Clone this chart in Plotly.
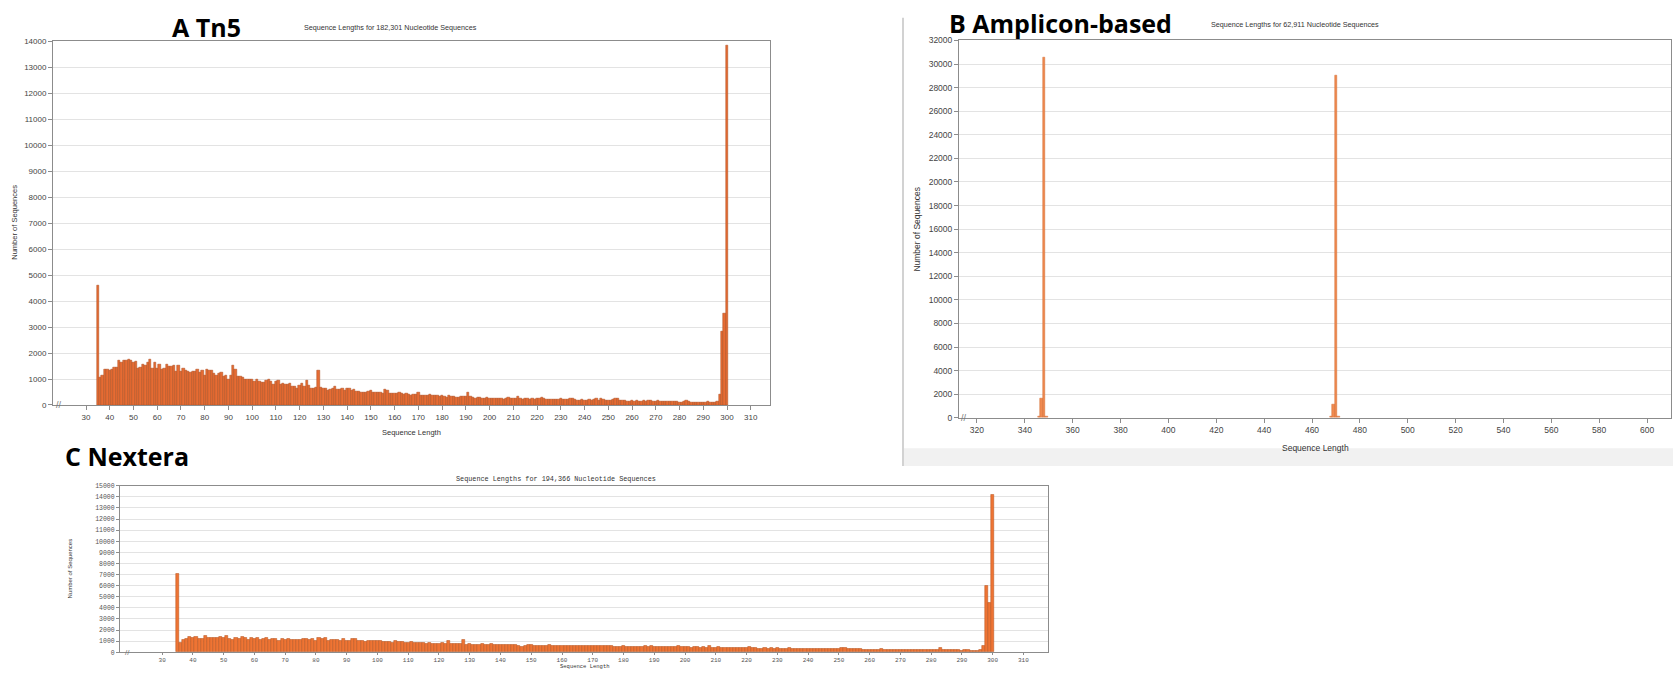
import plotly.graph_objects as go

W, H = 1673, 674

# ---------------- data ----------------
lengths_A = list(range(35, 301))
counts_A = [
    4600, 1050, 1150, 1370, 1370, 1320, 1350, 1430, 1450, 1700,
    1650, 1700, 1720, 1750, 1720, 1620, 1680, 1400, 1430, 1550,
    1520, 1650, 1750, 1420, 1650, 1420, 1580, 1380, 1420, 1580,
    1500, 1500, 1520, 1300, 1520, 1300, 1400, 1320, 1300, 1270,
    1280, 1300, 1380, 1250, 1330, 1150, 1350, 1320, 1320, 1200,
    1150, 1200, 1250, 1100, 1150, 1000, 1150, 1530, 1350, 1100,
    1080, 1050, 1000, 980, 1000, 1000, 900, 980, 920, 870,
    850, 950, 980, 900, 800, 900, 930, 800, 820, 780,
    800, 820, 730, 720, 650, 750, 820, 700, 930, 750,
    620, 650, 680, 1320, 680, 650, 620, 560, 600, 650,
    700, 600, 580, 620, 560, 620, 620, 560, 580, 530,
    530, 500, 500, 500, 520, 550, 480, 500, 470, 500,
    450, 600, 550, 430, 450, 430, 450, 500, 430, 400,
    450, 400, 380, 400, 400, 470, 380, 360, 370, 380,
    420, 380, 350, 360, 330, 350, 320, 280, 350, 330,
    310, 300, 300, 320, 330, 330, 480, 330, 300, 250,
    300, 280, 270, 260, 280, 260, 270, 260, 250, 240,
    250, 230, 260, 290, 240, 240, 250, 310, 240, 230,
    250, 240, 230, 240, 220, 240, 250, 290, 240, 210,
    210, 220, 210, 230, 220, 240, 210, 220, 210, 250,
    270, 200, 180, 190, 200, 190, 190, 200, 190, 220,
    260, 180, 240, 200, 170, 180, 170, 200, 250, 240,
    180, 160, 170, 150, 140, 160, 140, 160, 150, 150,
    160, 150, 160, 190, 150, 140, 160, 130, 120, 140,
    130, 140, 120, 140, 120, 110, 110, 130, 170, 140,
    110, 110, 100, 110, 100, 100, 90, 150, 100, 90,
    100, 130, 420, 2850, 3520, 13850,
]

lengths_B = [346, 347, 348, 349, 468, 469, 470, 471]
counts_B = [120, 1600, 30550, 110, 90, 1100, 29050, 110]

lengths_C = list(range(35, 301))
counts_C = [
    7100, 900, 1100, 1250, 1400, 1300, 1400, 1200, 1250, 1480,
    1300, 1300, 1300, 1350, 1400, 1300, 1500, 1200, 1100, 1300,
    1200, 1400, 1350, 1150, 1300, 1200, 1300, 1150, 1250, 1300,
    1150, 1250, 1250, 1000, 1250, 1100, 1250, 1100, 1100, 1100,
    1100, 1200, 1200, 1150, 1250, 1050, 1300, 1250, 1330, 1050,
    1100, 1150, 1150, 1050, 1200, 1000, 1050, 1250, 1200, 1000,
    1050, 950, 1000, 1000, 1000, 1000, 1050, 950, 950, 950,
    900, 1000, 950, 950, 900, 900, 950, 900, 850, 850,
    900, 800, 850, 800, 750, 800, 850, 800, 1000, 750,
    800, 750, 750, 1100, 700, 750, 700, 700, 650, 750,
    700, 700, 750, 700, 700, 700, 650, 700, 700, 700,
    700, 550, 500, 550, 650, 650, 600, 620, 600, 580,
    620, 640, 600, 620, 580, 620, 620, 600, 560, 620,
    600, 580, 560, 580, 560, 600, 580, 620, 600, 580,
    600, 560, 520, 540, 500, 560, 500, 520, 520, 480,
    500, 520, 560, 500, 620, 500, 520, 480, 500, 460,
    480, 500, 480, 560, 480, 460, 480, 440, 500, 460,
    440, 460, 450, 600, 440, 420, 480, 450, 420, 400,
    420, 400, 440, 400, 420, 380, 460, 420, 380, 360,
    360, 380, 360, 370, 360, 380, 360, 350, 360, 370,
    350, 360, 340, 350, 330, 340, 330, 320, 310, 340,
    320, 310, 300, 320, 300, 350, 380, 370, 360, 320,
    290, 280, 290, 270, 260, 250, 260, 270, 250, 280,
    260, 250, 240, 250, 230, 240, 220, 260, 240, 230,
    220, 240, 210, 200, 210, 200, 190, 230, 380, 200,
    190, 200, 180, 190, 200, 170, 180, 190, 160, 150,
    170, 200, 600, 5950, 4450, 14150,
]

ticks_A = list(range(30, 311, 10))
ticks_B = list(range(320, 601, 20))
ticks_C = list(range(30, 311, 10))

title_A = "A Tn5"
title_B = "B Amplicon-based"
title_C = "C Nextera"
sub_A = "Sequence Lengths for 182,301 Nucleotide Sequences"
sub_B = "Sequence Lengths for 62,911 Nucleotide Sequences"
sub_C = "Sequence Lengths for 194,366 Nucleotide Sequences"
xlabel = "Sequence Length"
ylabel = "Number of Sequences"


def px(x):
    return x / W


def py(y):
    return 1 - y / H


fig = go.Figure()
fig.add_trace(go.Bar(x=lengths_A, y=counts_A, width=1, xaxis="x", yaxis="y",
                     marker=dict(color="#E66C34", line=dict(color="#A9491B", width=0.5))))
fig.add_trace(go.Bar(x=lengths_B, y=counts_B, width=1, xaxis="x2", yaxis="y2",
                     marker=dict(color="#F08A50", line=dict(color="#D0682E", width=0.5))))
fig.add_trace(go.Bar(x=lengths_C, y=counts_C, width=1, xaxis="x3", yaxis="y3",
                     marker=dict(color="#EE7434", line=dict(color="#B5501C", width=0.5))))

sans = "Liberation Sans"
mono = "Liberation Mono"
frame = "#8c8c8c"
grid = "#e3e3e3"

common_x = dict(showline=True, linecolor=frame, linewidth=1, mirror=True, ticks="outside",
                ticklen=4, tickcolor=frame, showgrid=False, zeroline=False, fixedrange=True,
                tickformat="d")
common_y = dict(showline=True, linecolor=frame, linewidth=1, mirror=True, ticks="outside",
                ticklen=4, tickcolor=frame, showgrid=True, gridcolor=grid, gridwidth=1,
                zeroline=False, fixedrange=True, tickformat="d")

fig.update_layout(
    width=W, height=H, margin=dict(l=0, r=0, t=0, b=0),
    paper_bgcolor="white", plot_bgcolor="white", showlegend=False, bargap=0,
    xaxis=dict(common_x, domain=[px(53), px(770)], range=[16.1, 318.1], tickvals=ticks_A,
               tickfont=dict(family=sans, size=8, color="#444"), anchor="y"),
    yaxis=dict(common_y, domain=[py(406), py(37)], range=[0, 14000], dtick=1000,
               tickfont=dict(family=sans, size=8, color="#444"), anchor="x"),
    xaxis2=dict(common_x, domain=[px(959), px(1671)], range=[312.5, 610], tickvals=ticks_B,
                tickfont=dict(family=sans, size=8.5, color="#444"), anchor="y2"),
    yaxis2=dict(common_y, domain=[py(419), py(36)], range=[0, 32000], dtick=2000,
                tickfont=dict(family=sans, size=8.5, color="#444"), anchor="x2"),
    xaxis3=dict(common_x, domain=[px(120), px(1048)], range=[16.3, 318], tickvals=ticks_C,
                ticklen=2, tickfont=dict(family=mono, size=6, color="#555"), anchor="y3"),
    yaxis3=dict(common_y, domain=[py(657), py(488)], range=[0, 15000], dtick=1000,
                ticklen=3, tickfont=dict(family=mono, size=6.5, color="#555"), anchor="x3"),
)

ann = []


def add_text(text, x, y, size, family=sans, color="#333", bold=False, angle=0):
    ann.append(dict(text=("<b>%s</b>" % text) if bold else text, x=px(x), y=py(y),
                    xref="paper", yref="paper", xanchor="center", yanchor="middle",
                    showarrow=False, textangle=angle,
                    font=dict(family=family, size=size, color=color)))


add_text(title_A, 206, 22, 25, family="Open Sans", color="black", bold=True)
add_text(title_B, 1060, 18, 25, family="Open Sans", color="black", bold=True)
add_text(title_C, 127, 458, 25, family="Open Sans", color="black", bold=True)
add_text(sub_A, 390, 23, 7.2)
add_text(sub_B, 1295, 20, 7.2)
add_text(sub_C, 556, 481, 6.8, family=mono)
add_text(xlabel, 411, 434, 7.5)
add_text(xlabel, 1315, 450, 8.5)
add_text(xlabel, 585, 671.5, 5.5, family=mono)
add_text(ylabel, 15, 221, 7.5, angle=-90)
add_text(ylabel, 917, 228, 8.5, angle=-90)
add_text(ylabel, 70, 572, 6, angle=-90)
add_text("//", 59, 406, 9, color="#777")
add_text("//", 964, 419, 9, color="#777")
add_text("//", 127, 657, 8, color="#777")
fig.update_layout(annotations=ann)

fig.update_layout(shapes=[
    dict(type="rect", xref="paper", yref="paper", x0=px(903), x1=1, y0=py(468), y1=py(450),
         fillcolor="#f1f1f1", line=dict(width=0), layer="below"),
    dict(type="line", xref="paper", yref="paper", x0=px(903), x1=px(903), y0=py(468), y1=py(13),
         line=dict(color="#d2d2d2", width=2)),
])

fig.write_html("out.html", config={"displayModeBar": False},
               post_script="document.body.style.margin='0';document.body.style.padding='0';"
                           "document.body.style.overflow='hidden';")
